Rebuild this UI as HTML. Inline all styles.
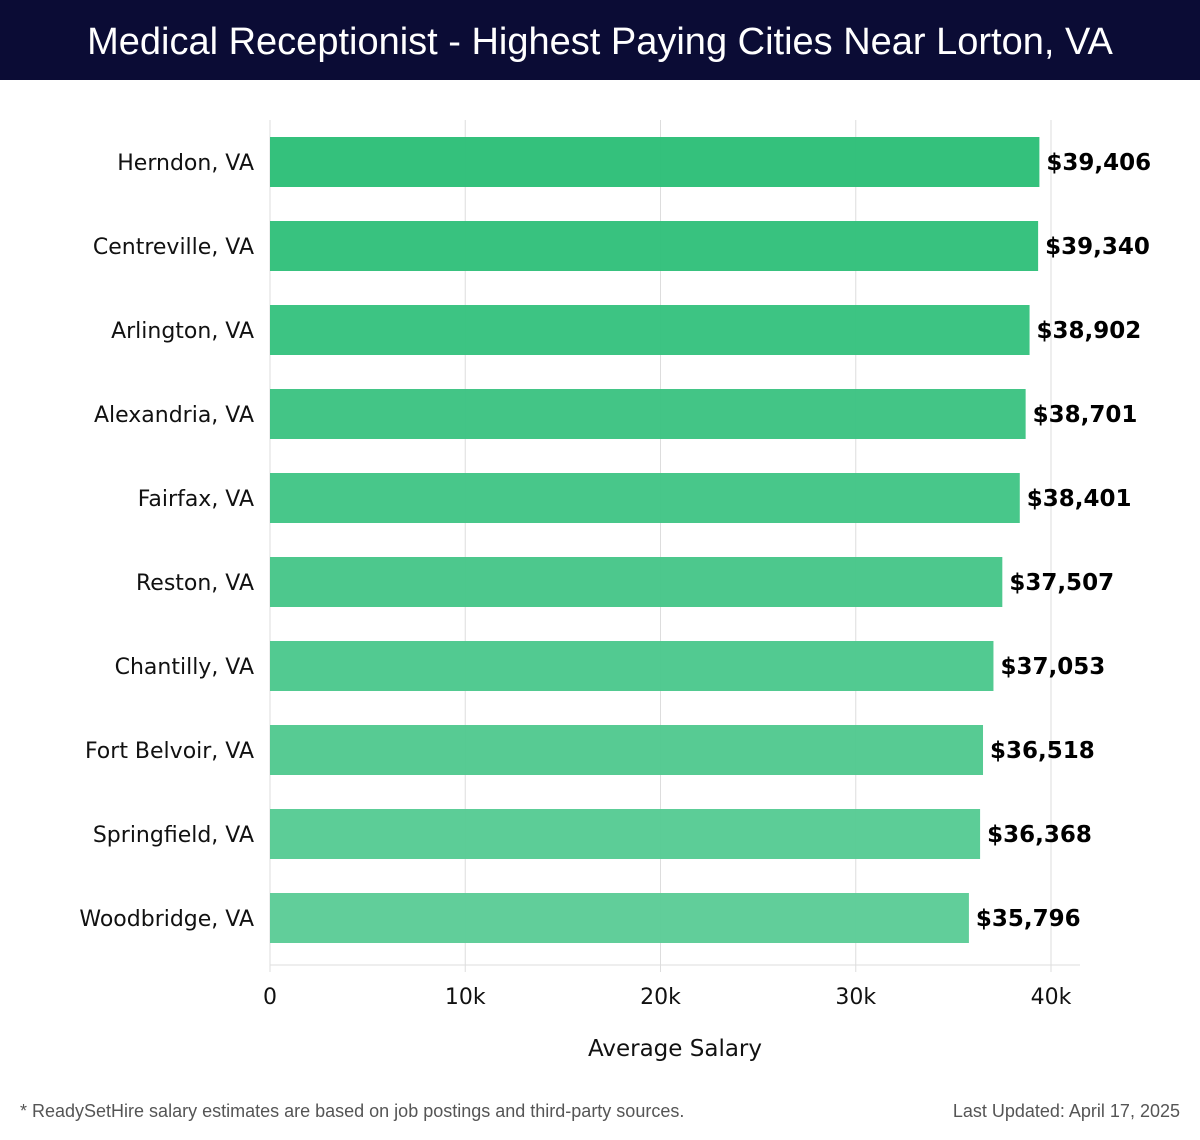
<!DOCTYPE html>
<html><head><meta charset="utf-8"><style>
body{margin:0;width:1200px;height:1140px;background:#fff;overflow:hidden;font-family:"DejaVu Sans","Liberation Sans",sans-serif}
#title{position:absolute;left:0;top:0;width:1200px;height:80px;background:#0b0c35;color:#fff;font-size:38px;text-align:center;line-height:84px;font-family:"Liberation Sans","DejaVu Sans",sans-serif}
.foot{position:absolute;top:1101px;font-size:18px;color:#555;font-family:"Liberation Sans",sans-serif}
</style></head><body>
<div id="title">Medical Receptionist - Highest Paying Cities Near Lorton, VA</div>
<svg id="chart" width="1200" height="1100" style="position:absolute;left:0;top:0"></svg>
<div class="foot" style="left:20px">* ReadySetHire salary estimates are based on job postings and third-party sources.</div>
<div class="foot" style="right:20px">Last Updated: April 17, 2025</div>
<script>
const cities=["Herndon, VA","Centreville, VA","Arlington, VA","Alexandria, VA","Fairfax, VA","Reston, VA","Chantilly, VA","Fort Belvoir, VA","Springfield, VA","Woodbridge, VA"];
const salaries=[39406,39340,38902,38701,38401,37507,37053,36518,36368,35796];
const ticks=[0,10000,20000,30000,40000];
const tickLabels=["0","10k","20k","30k","40k"];
const NS="http://www.w3.org/2000/svg";
const svg=document.getElementById('chart');
const X0=270,X1=1051,TOP=120,BOT=965;
const x=v=>X0+(v/40000)*(X1-X0);
const step=(BOT-TOP-5)/cities.length;
const y=i=>TOP+12+i*step;
const bh=50;
function mk(t,a){const e=document.createElementNS(NS,t);for(const k in a)e.setAttribute(k,a[k]);svg.appendChild(e);return e;}
ticks.forEach((t,i)=>{
  const g=mk('line',{x1:x(t),x2:x(t),y1:TOP,y2:BOT+7,stroke:'#dddddd','stroke-width':1});
  
  
  const l=mk('text',{x:x(t),y:1004,'text-anchor':'middle','font-size':22,fill:'#111'});
  l.textContent=tickLabels[i];
  
  
});
const ax=mk('line',{x1:X0,x2:1080,y1:BOT,y2:BOT,stroke:'#dddddd','stroke-width':1});


const ay=mk('line',{x1:X0,x2:X0,y1:TOP,y2:BOT,stroke:'#dddddd','stroke-width':1});


const c0=[45,191,120],c1=[92,204,151];
cities.forEach((c,i)=>{
  const f=i/(cities.length-1);
  const col=`rgb(${c0.map((v,k)=>Math.round(v+(c1[k]-v)*f)).join(',')})`;
  const b=mk('rect',{x:X0,y:y(i)+5,width:x(salaries[i])-X0,height:bh,fill:col,'fill-opacity':0.97});
  
  
  const lb=mk('text',{x:254,y:y(i)+5+bh/2+8,'text-anchor':'end','font-size':22,fill:'#111'});
  lb.textContent=c;
  
  
  const v=mk('text',{x:x(salaries[i])+7,y:y(i)+5+bh/2+8,'font-size':23,'font-weight':'bold',fill:'#000'});
  v.textContent='$'+salaries[i].toLocaleString('en-US');
  
  
});
const at=mk('text',{x:675,y:1056,'text-anchor':'middle','font-size':23,fill:'#111'});
at.textContent='Average Salary';


</script>
</body></html>
